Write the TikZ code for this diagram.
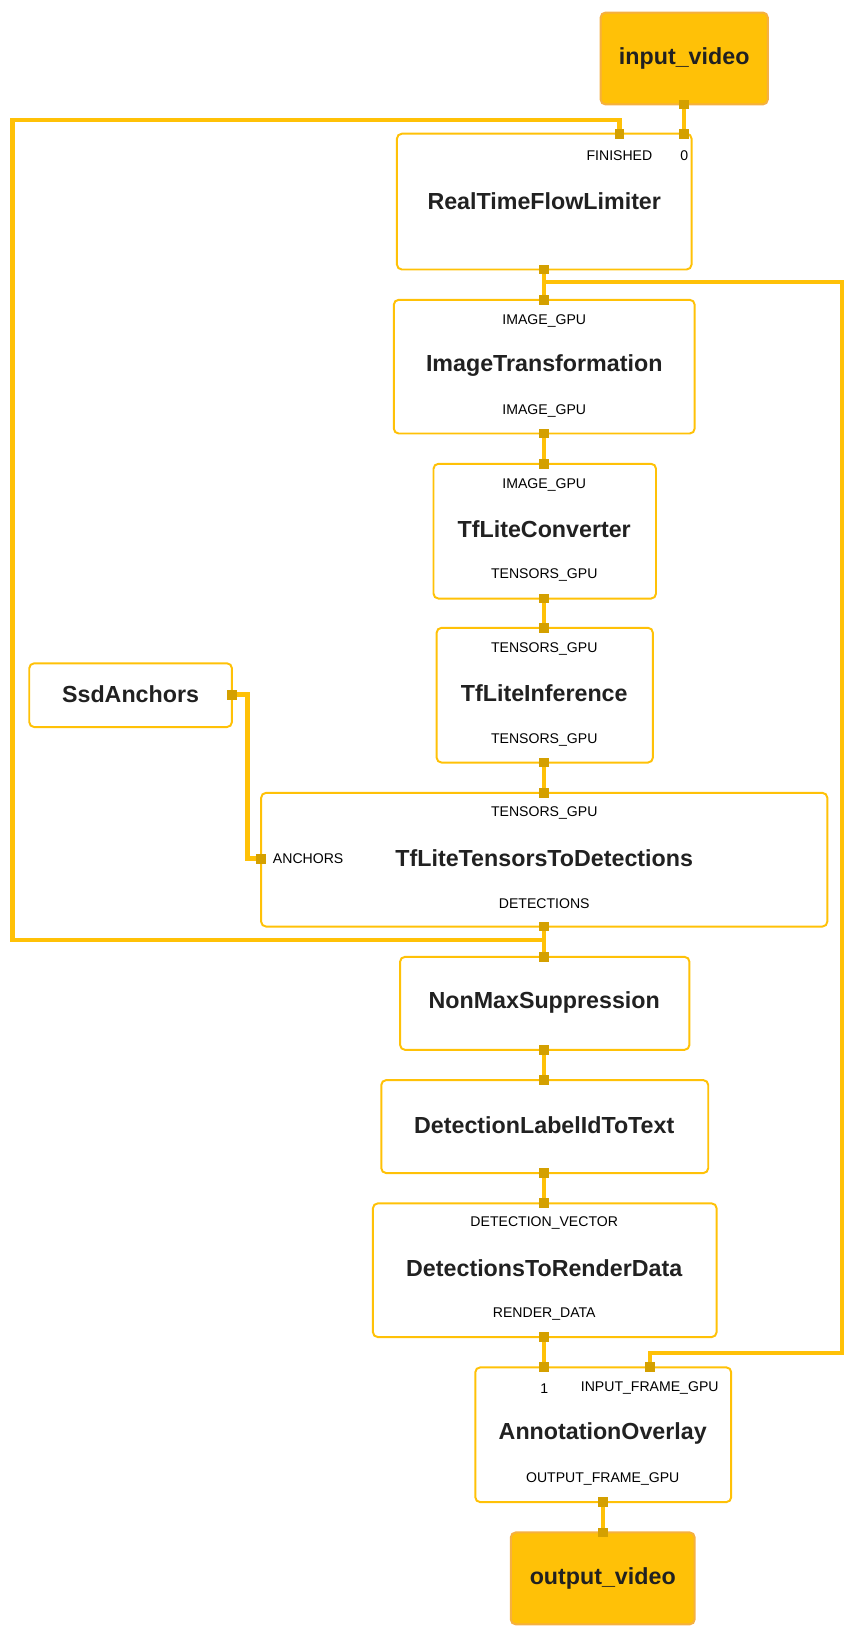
\documentclass[tikz,border=0pt]{standalone}
\usepackage{fontspec}
\setmainfont{Liberation Sans}
\usetikzlibrary{calc}
\definecolor{amber}{HTML}{FFC107}
\definecolor{portc}{HTML}{D4A000}
\definecolor{edgeo}{HTML}{F5B041}
\definecolor{ink}{HTML}{212121}
\tikzset{
  % calculator box
  calc/.style={draw=amber, line width=1.6pt, rounded corners=4pt, fill=white,
    text=ink, font=\fontsize{19}{22}\selectfont\bfseries, inner sep=0pt},
  % graph input/output
  stream/.style={calc, fill=amber, draw=edgeo},
  % stream tag
  tag/.style={font=\fontsize{11.5}{13}\selectfont, text=black, inner sep=0pt},
  % connector
  wire/.style={draw=amber, line width=3.6pt},
  % port
  port/.style={fill=portc, minimum size=8pt, inner sep=0pt},
}
\newcommand{\calcbox}[6]{% name, x1, y1, x2, y2, title
  \node[calc, minimum width={(#4-#2)*0.03cm}, minimum height={(#5-#3)*0.03cm}]
    (#1) at ({(#2+#4)/2},{(#3+#5)/2}) {};}
\begin{document}
\begin{tikzpicture}[x=0.03cm, y=-0.03cm]
  \useasboundingbox (0,0) rectangle (820,1570);

  % boxes
  \node[stream, minimum width=4.8cm, minimum height=2.64cm] (in) at (655,56) {input\_video};
  \calcbox{rtfl}{380}{128}{662}{258}{}
  \calcbox{it}{377}{287}{665}{415}{}
  \calcbox{tc}{415}{444}{628}{573}{}
  \calcbox{ti}{418}{601}{625}{730}{}
  \calcbox{ssd}{28}{635}{222}{696}{}
  \calcbox{ttd}{250}{759}{792}{887}{}
  \calcbox{nms}{383}{916}{660}{1005}{}
  \calcbox{dlt}{365}{1034}{678}{1123}{}
  \calcbox{dtr}{357}{1152}{686}{1280}{}
  \calcbox{ao}{455}{1309}{700}{1438}{}
  \node[stream, minimum width=5.28cm, minimum height=2.64cm] (out) at (577,1511) {output\_video};

  % titles
  \node[font=\fontsize{19}{22}\selectfont\bfseries, text=ink] (rtflT) at (521,193) {RealTimeFlowLimiter};
  \node[font=\fontsize{19}{22}\selectfont\bfseries, text=ink] (itT) at (521,350) {ImageTransformation};
  \node[font=\fontsize{19}{22}\selectfont\bfseries, text=ink] (tcT) at (521,507) {TfLiteConverter};
  \node[font=\fontsize{19}{22}\selectfont\bfseries, text=ink] (tiT) at (521,664) {TfLiteInference};
  \node[font=\fontsize{19}{22}\selectfont\bfseries, text=ink] (ssdT) at (125,665) {SsdAnchors};
  \node[font=\fontsize{19}{22}\selectfont\bfseries, text=ink] (ttdT) at (521,822) {TfLiteTensorsToDetections};
  \node[font=\fontsize{19}{22}\selectfont\bfseries, text=ink] (nmsT) at (521,960) {NonMaxSuppression};
  \node[font=\fontsize{19}{22}\selectfont\bfseries, text=ink] (dltT) at (521,1077) {DetectionLabelIdToText};
  \node[font=\fontsize{19}{22}\selectfont\bfseries, text=ink] (dtrT) at (521,1214) {DetectionsToRenderData};
  \node[font=\fontsize{19}{22}\selectfont\bfseries, text=ink] (aoT) at (577,1372) {AnnotationOverlay};

  % tags
  \node[tag] (finT) at (593,149) {FINISHED};
  \node[tag] (zeroT) at (655,149) {0};
  \node[tag] (itIn) at (521,307) {IMAGE\_GPU};
  \node[tag] (itOut) at (521,393) {IMAGE\_GPU};
  \node[tag] (tcIn) at (521,464) {IMAGE\_GPU};
  \node[tag] (tcOut) at (521,550) {TENSORS\_GPU};
  \node[tag] (tiIn) at (521,621) {TENSORS\_GPU};
  \node[tag] (tiOut) at (521,708) {TENSORS\_GPU};
  \node[tag] (ttdIn) at (521,778) {TENSORS\_GPU};
  \node[tag] (anc) at (295,822) {ANCHORS};
  \node[tag] (ttdOut) at (521,865) {DETECTIONS};
  \node[tag] (dtrIn) at (521,1171) {DETECTION\_VECTOR};
  \node[tag] (dtrOut) at (521,1258) {RENDER\_DATA};
  \node[tag] (aoOne) at (521,1329) {1};
  \node[tag] (aoIn) at (622,1329) {INPUT\_FRAME\_GPU};
  \node[tag] (aoOut) at (577,1416) {OUTPUT\_FRAME\_GPU};

  % ports
  \coordinate (p-in) at (655,100);
  \coordinate (p-rtfl0) at (655,128);
  \coordinate (p-rtflF) at (593,128);
  \coordinate (p-rtflO) at (521,258);
  \coordinate (p-itI) at (521,287);
  \coordinate (p-itO) at (521,415);
  \coordinate (p-tcI) at (521,444);
  \coordinate (p-tcO) at (521,573);
  \coordinate (p-tiI) at (521,601);
  \coordinate (p-tiO) at (521,730);
  \coordinate (p-ttdI) at (521,759);
  \coordinate (p-ttdA) at (250,822);
  \coordinate (p-ssdO) at (222,665);
  \coordinate (p-ttdO) at (521,887);
  \coordinate (p-nmsI) at (521,916);
  \coordinate (p-nmsO) at (521,1005);
  \coordinate (p-dltI) at (521,1034);
  \coordinate (p-dltO) at (521,1123);
  \coordinate (p-dtrI) at (521,1152);
  \coordinate (p-dtrO) at (521,1280);
  \coordinate (p-ao1) at (521,1309);
  \coordinate (p-aoF) at (622,1309);
  \coordinate (p-aoO) at (577,1438);
  \coordinate (p-out) at (577,1467);

  % wires
  \draw[wire] (p-in) -- (p-rtfl0);
  \draw[wire] (p-ttdO) -- (521,900) -- (12,900) -- (12,115) -- (593,115) -- (p-rtflF);
  \draw[wire] (p-ttdO) -- (p-nmsI);
  \draw[wire] (p-rtflO) -- (p-itI);
  \draw[wire] (521,270) -- (806,270) -- (806,1295) -- (622,1295) -- (p-aoF);
  \draw[wire] (p-itO) -- (p-tcI);
  \draw[wire] (p-tcO) -- (p-tiI);
  \draw[wire] (p-tiO) -- (p-ttdI);
  \draw[wire] (p-ssdO) -- (237,665) -- (237,822) -- (p-ttdA);
  \draw[wire] (p-nmsO) -- (p-dltI);
  \draw[wire] (p-dltO) -- (p-dtrI);
  \draw[wire] (p-dtrO) -- (p-ao1);
  \draw[wire] (p-aoO) -- (p-out);

  \foreach \p in {in,rtfl0,rtflF,rtflO,itI,itO,tcI,tcO,tiI,tiO,ttdI,ttdA,ssdO,
    ttdO,nmsI,nmsO,dltI,dltO,dtrI,dtrO,ao1,aoF,aoO,out}
    \node[port] at (p-\p) {};
\end{tikzpicture}
\end{document}
